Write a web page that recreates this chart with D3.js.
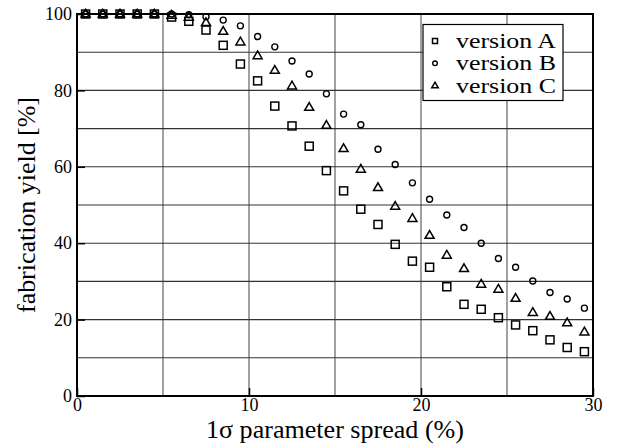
<!DOCTYPE html>
<html>
<head>
<meta charset="utf-8">
<script src="https://cdn.jsdelivr.net/npm/d3@7"></script>
<style>
  html, body { margin: 0; padding: 0; background: #fff; }
  svg { display: block; }
</style>
</head>
<body>
<svg id="chart" width="621" height="444"></svg>
<script>
// ---- data ----
const spread = [0.5, 1.5, 2.5, 3.5, 4.5, 5.5, 6.5, 7.5, 8.5, 9.5,
                10.5, 11.5, 12.5, 13.5, 14.5, 15.5, 16.5, 17.5, 18.5, 19.5,
                20.5, 21.5, 22.5, 23.5, 24.5, 25.5, 26.5, 27.5, 28.5, 29.5];
const versionA = [100, 100, 100, 100, 100, 99.2, 98.1, 95.8, 91.8, 86.9,
                  82.5, 75.9, 70.7, 65.4, 59.0, 53.7, 48.9, 44.9, 39.7, 35.3,
                  33.7, 28.6, 24.0, 22.7, 20.5, 18.6, 17.1, 14.7, 12.7, 11.6];
const versionB = [100, 100, 100, 100, 100, 100, 99.8, 99.3, 98.4, 96.9,
                  94.1, 91.4, 87.7, 84.3, 79.1, 73.8, 71.0, 64.6, 60.6, 55.8,
                  51.5, 47.4, 44.1, 40.0, 36.0, 33.7, 30.1, 27.1, 25.4, 23.0];
const versionC = [100, 100, 100, 100, 100, 99.7, 99.2, 97.8, 95.5, 92.7,
                  89.1, 85.3, 81.2, 75.6, 70.9, 64.8, 59.4, 54.6, 49.7, 46.5,
                  42.1, 36.9, 33.4, 29.3, 28.0, 25.6, 21.9, 20.9, 19.2, 16.8];
const seriesNames = ["version A", "version B", "version C"];
const xTickLabels = [0, 10, 20, 30];
const yTickLabels = [0, 20, 40, 60, 80, 100];
const xGrid = [5, 10, 15, 20, 25];
const yGrid = [10, 20, 30, 40, 50, 60, 70, 80, 90];
const xTitle = "1σ parameter spread (%)";
const yTitle = "fabrication yield [%]";

const FONT = "'Liberation Serif', 'DejaVu Serif', serif";

// ---- layout ----
const svg = d3.select("#chart");
const L = 77, T = 14, W = 516, H = 382;
const x = d3.scaleLinear().domain([0, 30]).range([L, L + W]);
const y = d3.scaleLinear().domain([0, 100]).range([T + H, T]);

const g = svg.append("g");

// grid
g.selectAll(".vg").data(xGrid).join("line")
  .attr("x1", d => x(d)).attr("x2", d => x(d))
  .attr("y1", T).attr("y2", T + H)
  .attr("stroke", "#555").attr("stroke-width", 1.1);
g.selectAll(".hg").data(yGrid).join("line")
  .attr("y1", d => y(d)).attr("y2", d => y(d))
  .attr("x1", L).attr("x2", L + W)
  .attr("stroke", "#333").attr("stroke-width", 1.1);

// axes (ticks inward)
const xAxis = d3.axisBottom(x).tickValues(xTickLabels).tickSizeInner(-8).tickSizeOuter(0).tickPadding(0);
const yAxis = d3.axisLeft(y).tickValues(yTickLabels).tickSizeInner(-8).tickSizeOuter(0).tickPadding(5);

const gx = svg.append("g").attr("transform", `translate(0,${T + H})`).call(xAxis);
const gy = svg.append("g").attr("transform", `translate(${L},0)`).call(yAxis);
[gx, gy].forEach(a => {
  a.attr("font-family", FONT).attr("font-size", 18);
  a.select(".domain").remove();
  a.selectAll(".tick line").attr("stroke", "#000").attr("stroke-width", 1.5);
  a.selectAll(".tick text").attr("font-family", FONT).attr("font-size", 18).attr("fill", "#000");
});
// x tick labels: baseline ~15px below the axis
gx.selectAll(".tick text").attr("y", 15).attr("dy", null);

// frame
svg.append("rect").attr("x", L).attr("y", T).attr("width", W).attr("height", H)
  .attr("fill", "none").attr("stroke", "#000").attr("stroke-width", 2);

// markers
const sqSize = 8, cr = 3, tri = 9;
function drawSquare(sel, cx, cy, s) {
  sel.append("rect").attr("x", cx - s / 2).attr("y", cy - s / 2).attr("width", s).attr("height", s)
    .attr("fill", "none").attr("stroke", "#000").attr("stroke-width", 1.5);
}
function drawCircle(sel, cx, cy, r) {
  sel.append("circle").attr("cx", cx).attr("cy", cy).attr("r", r)
    .attr("fill", "none").attr("stroke", "#000").attr("stroke-width", 1.4);
}
function drawTri(sel, cx, cy, s) {
  const h = s * 0.86;
  sel.append("path").attr("d", `M${cx},${cy - h * 0.6}L${cx + s / 2},${cy + h * 0.4}L${cx - s / 2},${cy + h * 0.4}Z`)
    .attr("fill", "none").attr("stroke", "#000").attr("stroke-width", 1.5).attr("stroke-linejoin", "miter");
}
const pts = svg.append("g");
spread.forEach((s, i) => drawSquare(pts, x(s), y(versionA[i]), sqSize));
spread.forEach((s, i) => drawCircle(pts, x(s), y(versionB[i]), cr));
spread.forEach((s, i) => drawTri(pts, x(s), y(versionC[i]), tri));

// legend
const lg = svg.append("g");
lg.append("rect").attr("x", 423).attr("y", 24.5).attr("width", 140).attr("height", 76)
  .attr("fill", "#fff").attr("stroke", "#000").attr("stroke-width", 1.2);
const rowY = [41, 63.3, 85.6];
drawSquare(lg, 435, rowY[0], 5);
drawCircle(lg, 435, rowY[1], 2.3);
drawTri(lg, 435, rowY[2], 6.5);
seriesNames.forEach((n, i) => {
  lg.append("text").attr("x", 456).attr("y", rowY[i] + 7)
    .attr("font-family", FONT).attr("font-size", 20.5).attr("fill", "#000")
    .attr("textLength", 100).attr("lengthAdjust", "spacingAndGlyphs").text(n);
});

// axis titles
svg.append("text").attr("x", L + W / 2).attr("y", 438).attr("text-anchor", "middle")
  .attr("font-family", FONT).attr("font-size", 25).attr("fill", "#000")
  .attr("textLength", 258).attr("lengthAdjust", "spacingAndGlyphs").text(xTitle);
svg.append("text").attr("transform", `translate(35,${T + H / 2}) rotate(-90)`).attr("text-anchor", "middle")
  .attr("font-family", FONT).attr("font-size", 25).attr("fill", "#000")
  .attr("textLength", 216).attr("lengthAdjust", "spacingAndGlyphs").text(yTitle);
</script>
</body>
</html>
